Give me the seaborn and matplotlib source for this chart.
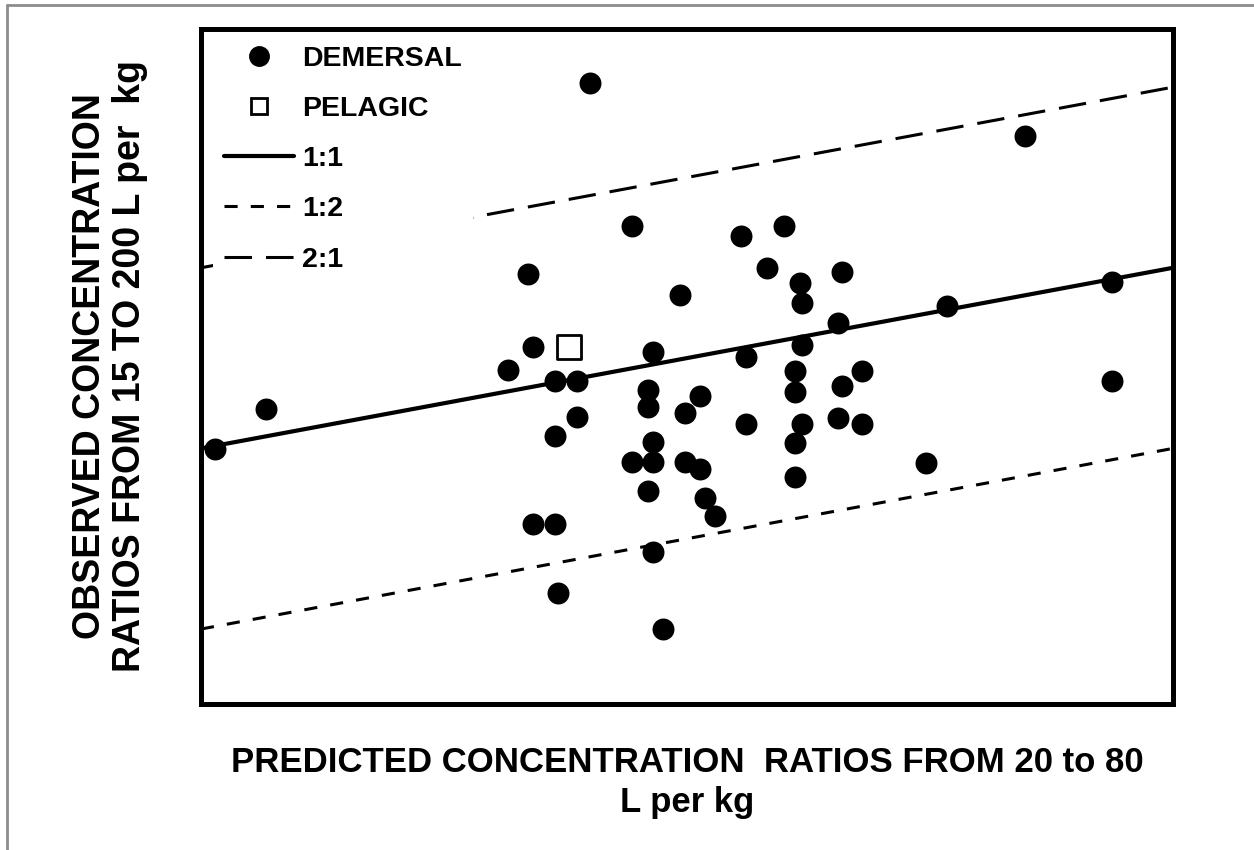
import matplotlib
matplotlib.use("Agg")
import matplotlib.pyplot as plt
import seaborn as sns
import pandas as pd
from matplotlib.lines import Line2D
from matplotlib.ticker import NullLocator

# ---- data (log-log axes) ----
demersal_pred = [40.4, 41.9, 50.5, 50.7, 49.8, 51.5, 52.3, 52.3, 51.5, 50.7,
                 51.5, 51.6, 52.8, 54.4, 56.3, 55.2, 55.0, 55.0, 57.1, 56.5,
                 55.2, 54.4, 55.2, 56.5, 57.1, 55.0, 57.3, 57.7, 55.2, 55.6,
                 58.8, 60.6, 59.9, 63.2, 61.3, 61.4, 68.1, 63.0, 61.4, 59.0,
                 61.1, 64.1, 63.2, 61.1, 59.0, 61.4, 63.0, 64.1, 61.1, 67.1,
                 61.1, 72.0, 76.6, 76.6]
demersal_obs = [39.9, 46.5, 78.1, 59.0, 54.0, 51.8, 51.8, 45.1, 42.0, 29.9,
                29.9, 23.0, 162.6, 93.9, 72.1, 57.9, 50.1, 46.9, 48.9, 45.8,
                41.0, 38.0, 38.0, 38.0, 37.0, 34.0, 33.1, 30.9, 26.9, 20.0,
                90.4, 93.9, 80.0, 78.7, 75.5, 69.9, 69.1, 64.7, 59.5, 56.8,
                53.8, 53.8, 50.8, 49.7, 43.9, 43.9, 45.0, 43.9, 40.8, 37.8,
                35.8, 132.7, 75.7, 51.8]
pelagic_pred = [52.0]
pelagic_obs = [59.0]

pred_range = [40, 80]      # x-axis extent (L per kg)
obs_range = [15, 200]      # y-axis extent (L per kg)
ratio_labels = ["1:1", "1:2", "2:1"]
ratio_factors = [1.0, 0.5, 2.0]
legend_labels = ["DEMERSAL", "PELAGIC"] + ratio_labels

sns.set_theme(style="white")
plt.rcParams['font.family'] = ['Liberation Sans', 'DejaVu Sans']
plt.rcParams['text.color'] = 'black'
plt.rcParams['axes.labelcolor'] = 'black'

fig = plt.figure(figsize=(12.54, 8.5), dpi=100)
ax = fig.add_axes([201 / 1254, 146 / 850, 972 / 1254, 675 / 850])
ax.set_xscale('log')
ax.set_yscale('log')

line_styles = {"1:1": dict(lw=3.0, linestyle='-'),
               "1:2": dict(lw=2.2, linestyle=(0, (4.3, 4.3))),
               "2:1": dict(lw=2.2, linestyle=(0, (9.0, 4.6)))}
for lab, fac in zip(ratio_labels, ratio_factors):
    df = pd.DataFrame({"x": pred_range, "y": [v * fac for v in pred_range]})
    sns.lineplot(data=df, x="x", y="y", ax=ax, color='black',
                 legend=False, **line_styles[lab])

sns.scatterplot(x=demersal_pred, y=demersal_obs, ax=ax, color='black',
                marker='o', s=250, linewidth=0, legend=False, zorder=3)
sns.scatterplot(x=pelagic_pred, y=pelagic_obs, ax=ax, marker='s', s=300,
                facecolor='white', edgecolor='black', linewidth=2,
                legend=False, zorder=3)

ax.set_xlim(*pred_range)
ax.set_ylim(*obs_range)
for axis in (ax.xaxis, ax.yaxis):
    axis.set_major_locator(NullLocator())
    axis.set_minor_locator(NullLocator())

for sp in ax.spines.values():
    sp.set_linewidth(3.6)
    sp.set_color('black')
    sp.set_zorder(6)

handles = [
    Line2D([], [], marker='o', ls='none', color='black', ms=14),
    Line2D([], [], marker='s', ls='none', mfc='white', mec='black', ms=12, mew=2),
    Line2D([], [], color='black', **line_styles["1:1"]),
    Line2D([], [], color='black', **line_styles["1:2"]),
    Line2D([], [], color='black', **line_styles["2:1"]),
]
leg = ax.legend(handles, legend_labels, loc='upper left',
                bbox_to_anchor=(0.012, 0.992), borderaxespad=0, frameon=True,
                facecolor='white', edgecolor='none', framealpha=1,
                fancybox=False, prop={'weight': 'bold', 'size': 20.5},
                handlelength=2.45, handletextpad=0.3, labelspacing=0.85,
                borderpad=0.4, labelcolor='black')

ax.set_xlabel("PREDICTED CONCENTRATION  RATIOS FROM 20 to 80\nL per kg",
              fontsize=25, fontweight='bold', labelpad=30, color='black',
              linespacing=1.3)
ax.set_ylabel("OBSERVED CONCENTRATION\nRATIOS FROM 15 TO 200 L per  kg",
              fontsize=27, fontweight='bold', labelpad=38, color='black',
              linespacing=1.15)

# outer grey border of the picture
fig.add_artist(Line2D([7 / 1254, 1], [1 - 5 / 850, 1 - 5 / 850],
                      transform=fig.transFigure, color='#8c8c8c', lw=2))
fig.add_artist(Line2D([7 / 1254, 7 / 1254], [0, 1 - 5 / 850],
                      transform=fig.transFigure, color='#8c8c8c', lw=2))

fig.savefig("out.png", dpi=100, facecolor='white')
